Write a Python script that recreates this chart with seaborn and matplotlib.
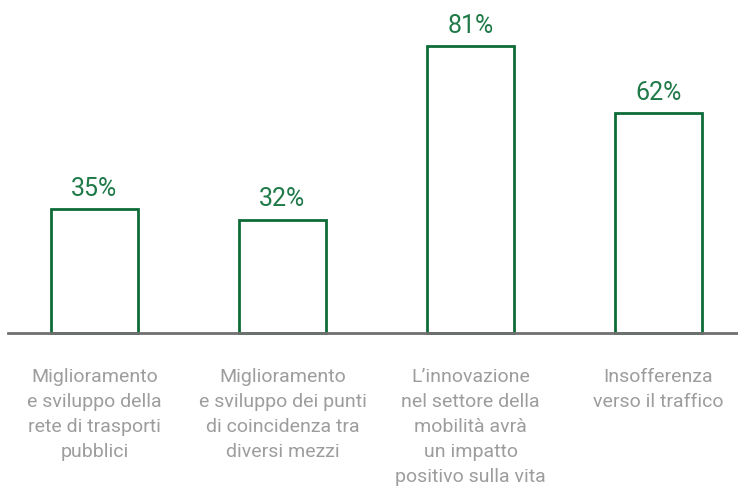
import matplotlib
matplotlib.use("Agg")
import matplotlib.pyplot as plt
import seaborn as sns
import pandas as pd

categories = [
    "Miglioramento\ne sviluppo della\nrete di trasporti\npubblici",
    "Miglioramento\ne sviluppo dei punti\ndi coincidenza tra\ndiversi mezzi",
    "L\u2019innovazione\nnel settore della\nmobilità avrà\nun impatto\npositivo sulla vita",
    "Insofferenza\nverso il traffico",
]
values = [35, 32, 81, 62]

GREEN_EDGE = "#0d6b38"
GREEN_TEXT = "#1f7a48"
GRAY_TEXT = "#9d9d9d"

sns.set_theme(style="white")
plt.rcParams["font.family"] = ["Roboto", "DejaVu Sans"]

df = pd.DataFrame({"cat": categories, "val": values})

fig = plt.figure(figsize=(7.38, 4.98), dpi=100)
ax = fig.add_axes([0.0, (498 - 333) / 498, 1.0, 333 / 498])

sns.barplot(data=df, x="cat", y="val", ax=ax, fill=False, color=GREEN_EDGE,
            linewidth=2.0, width=0.463, errorbar=None)
for p in ax.patches:
    p.set_edgecolor(GREEN_EDGE)
    p.set_facecolor("white")
    p.set_fill(True)
    p.set_clip_on(False)

ax.bar_label(ax.containers[0], labels=[f"{v}%" for v in values],
             padding=6, fontsize=18, color=GREEN_TEXT)

ax.set_xlim(-94.5 / 188, 643.5 / 188)
ax.set_ylim(0, 94)
ax.set_xlabel("")
ax.set_ylabel("")
ax.set_yticks([])
ax.set_xticks([])
for i, c in enumerate(categories):
    ax.annotate(c, xy=(i, 0), xycoords=("data", "axes fraction"),
                xytext=(0, -25), textcoords="offset points",
                ha="center", va="top", fontsize=14, color=GRAY_TEXT,
                linespacing=1.5, annotation_clip=False)
for s in ["top", "right", "left"]:
    ax.spines[s].set_visible(False)
ax.spines["bottom"].set_color("#707070")
ax.spines["bottom"].set_linewidth(2)
ax.spines["bottom"].set_bounds(-0.46, 3.45)

fig.savefig("out.png", dpi=100, facecolor="white")
